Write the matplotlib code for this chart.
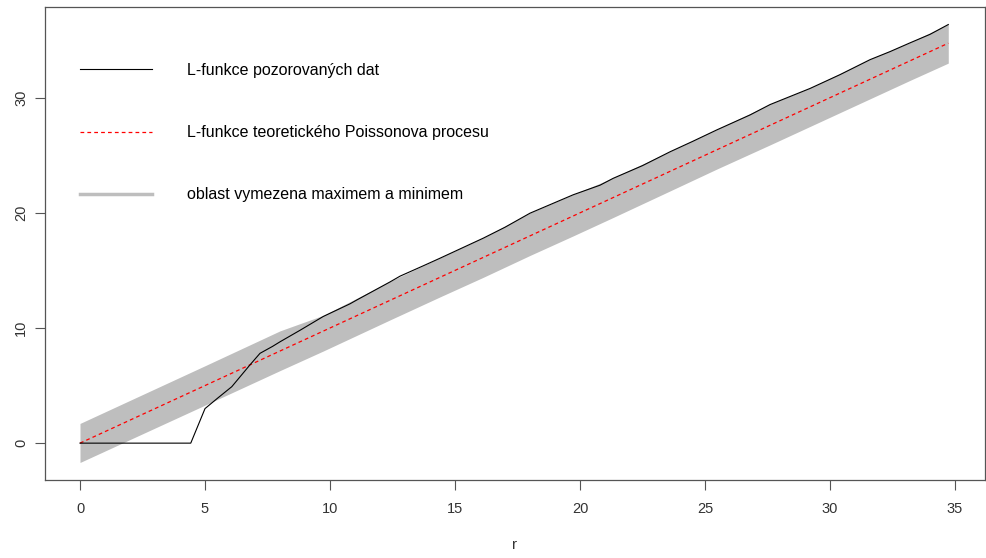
import matplotlib
matplotlib.use("Agg")
import matplotlib.pyplot as plt

r_obs = [0, 4.43, 5.0, 5.5, 6.07, 6.8, 7.2, 7.7, 8.0, 8.8, 9.73, 10.8, 11.07, 12.4,
         12.8, 13.73, 14.4, 16.13, 17.0, 18.0, 19.73, 20.8, 21.33, 22.5,
         23.6, 24.5, 25.47, 26.8, 27.6, 28.4, 29.2, 30.4, 31.6, 32.4, 33.2, 34.0, 34.73]
L_obs = [0, 0, 3.0, 3.9, 4.9, 6.8, 7.8, 8.4, 8.8, 9.8, 11.0, 12.1, 12.43, 14.0,
         14.5, 15.4, 16.06, 17.8, 18.75, 19.97, 21.57, 22.4, 23.0, 24.1,
         25.3, 26.2, 27.2, 28.5, 29.4, 30.1, 30.8, 32.0, 33.3, 34.0, 34.76, 35.5, 36.35]

# theoretical Poisson L(r) = r
r_theo = [0, 34.73]
L_theo = [0, 34.73]

# envelope (max / min)
r_env = [0, 5, 8, 9.73, 12.4, 14.4, 16.13, 18.0, 19.73, 21.33, 23.6, 25.47,
         27.6, 29.2, 31.6, 33.2, 34.73]
env_hi = [1.71, 6.72, 9.75, 11.1, 14.05, 16.1, 17.85, 20.0, 21.6, 23.05, 25.35, 27.25,
          29.45, 30.85, 33.35, 34.8, 36.4]
env_lo = [-1.68, 3.3, 6.3, 8.0, 10.7, 12.7, 14.4, 16.3, 18.0, 19.6, 21.9, 23.8,
          25.9, 27.5, 29.9, 31.5, 33.0]

labels = ["L-funkce pozorovaných dat",
          "L-funkce teoretického Poissonova procesu",
          "oblast vymezena maximem a minimem"]

plt.rcParams['font.family'] = ['Liberation Sans', 'DejaVu Sans']

fig = plt.figure(figsize=(9.87, 5.58), dpi=100)
ax = fig.add_axes([0.0456, 0.1398, 0.998 - 0.0456, 0.988 - 0.1398])

ax.fill_between(r_env, env_lo, env_hi, color="#bebebe", lw=0, zorder=1)
ax.plot(r_theo, L_theo, color="red", lw=0.9, dashes=(3, 2.5), zorder=2)
ax.plot(r_obs, L_obs, color="black", lw=0.8, zorder=3)

h1, = ax.plot([], [], color="black", lw=0.8)
h2, = ax.plot([], [], color="red", lw=0.9, dashes=(3, 2.5))
h3, = ax.plot([], [], color="#bebebe", lw=2.5)
ax.legend([h1, h2, h3], labels, loc="upper left", bbox_to_anchor=(80 / 987, 1 - 63 / 558),
          bbox_transform=fig.transFigure, frameon=False, fontsize=11.5,
          handlelength=4.5, handletextpad=2.2, labelspacing=2.95,
          borderpad=0, borderaxespad=0)

ax.set_xlim(-1.4, 36.2)
ax.set_ylim(-3.2, 37.9)
ax.set_xticks(range(0, 36, 5))
ax.set_yticks([0, 10, 20, 30])
ax.tick_params(colors="#555555", labelcolor="#333333", labelsize=10.5, length=7, width=0.8)
ax.tick_params(axis="x", pad=9)
ax.tick_params(axis="y", pad=5)
for lab in ax.get_yticklabels():
    lab.set_rotation(90)
    lab.set_va("center")
for s in ax.spines.values():
    s.set_color("#555555")
    s.set_linewidth(0.9)
ax.set_xlabel("r", fontsize=11, color="#333333", labelpad=16)

fig.savefig("out.png", dpi=100)
